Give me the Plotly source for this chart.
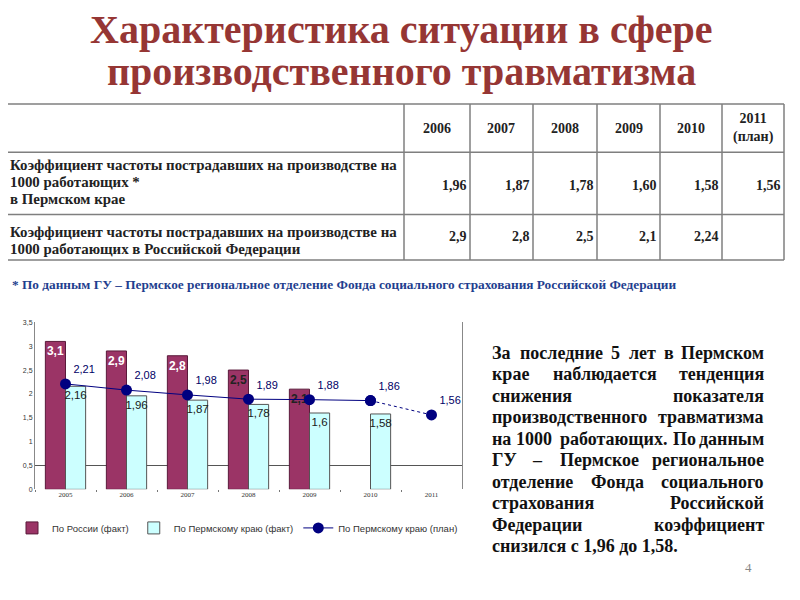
import plotly.graph_objects as go

# ---------------- data ----------------
title_lines = ["Характеристика ситуации в сфере", "производственного травматизма"]

table_years = ["2006", "2007", "2008", "2009", "2010", "2011<br>(план)"]
table_perm = ["1,96", "1,87", "1,78", "1,60", "1,58", "1,56"]
table_rf = ["2,9", "2,8", "2,5", "2,1", "2,24", ""]
table_labels = [
    ["Коэффициент частоты пострадавших на производстве на", "1000 работающих *", "в Пермском крае"],
    ["Коэффициент частоты пострадавших на производстве на", "1000 работающих в Российской Федерации"],
]
footnote = "* По данным ГУ – Пермское региональное отделение Фонда социального страхования Российской Федерации"

years = ["2005", "2006", "2007", "2008", "2009", "2010", "2011"]
russia_fact = [3.1, 2.9, 2.8, 2.5, 2.1, None, None]
perm_fact = [2.16, 1.96, 1.87, 1.78, 1.6, 1.58, None]
perm_plan = [2.21, 2.08, 1.98, 1.89, 1.88, 1.86, 1.56]
series_names = ["По России (факт)", "По Пермскому краю (факт)", "По Пермскому краю (план)"]

y_ticks = [0, 0.5, 1, 1.5, 2, 2.5, 3, 3.5]

side_lines = [
    "За последние 5 лет в Пермском",
    "крае наблюдается тенденция",
    "снижения показателя",
    "производственного травматизма",
    "на 1000 работающих. По данным",
    "ГУ – Пермское региональное",
    "отделение Фонда социального",
    "страхования Российской",
    "Федерации коэффициент",
    "снизился с 1,96 до 1,58.",
]
page_number = "4"

# ---------------- helpers ----------------
W, H = 800, 600
OFF = 8  # page body margin


def px(x):
    return (x - OFF) / W


def py(y):
    return 1 - (y - OFF) / H


def fmt(v):
    return "" if v is None else ("%g" % v).replace(".", ",")


SERIF = "Liberation Serif"
SANS = "Liberation Sans"

fig = go.Figure()

# ---------------- chart ----------------
fig.add_trace(go.Bar(
    x=years, y=russia_fact, name=series_names[0],
    marker=dict(color="#9B3466", line=dict(color="#5a1a3a", width=1)),
    text=["<b>%s</b>" % fmt(v) if v is not None else "" for v in russia_fact],
    textposition="inside", insidetextanchor="end", textangle=0,
    constraintext="none",
    textfont=dict(family=SANS, size=12, color=["white", "white", "white", "#222222", "#222222", "white", "white"]),
))
fig.add_trace(go.Bar(
    x=years, y=perm_fact, name=series_names[1],
    marker=dict(color="#CCFFFF", line=dict(color="#555555", width=1)),
    text=[fmt(v) for v in perm_fact], textposition="inside", insidetextanchor="end", textangle=0,
    constraintext="none",
    textfont=dict(family=SANS, size=11.5, color="#1a1a1a"),
))
fig.add_trace(go.Scatter(
    x=years[:6], y=perm_plan[:6], name=series_names[2], mode="lines+markers+text",
    line=dict(color="#000080", width=1),
    marker=dict(color="#000080", size=11),
    text=[fmt(v) for v in perm_plan[:6]], textposition="top right",
    textfont=dict(family=SANS, size=11, color="#000066"),
))
fig.add_trace(go.Scatter(
    x=years[5:], y=perm_plan[5:], name=series_names[2], mode="lines+markers+text",
    line=dict(color="#000080", width=1, dash="dot"),
    marker=dict(color="#000080", size=11),
    text=[""] + [fmt(v) for v in perm_plan[6:]], textposition="top right",
    textfont=dict(family=SANS, size=11, color="#000066"),
    showlegend=False,
))

fig.update_layout(
    width=W, height=H, margin=dict(l=0, r=0, t=0, b=0),
    paper_bgcolor="white", plot_bgcolor="white",
    separators=", ",
    barmode="group", bargap=0.34, bargroupgap=0,
    showlegend=True,
    legend=dict(orientation="h", x=px(12), y=py(530), xanchor="left", yanchor="middle",
                font=dict(family=SANS, size=9.5, color="#333333"), bgcolor="rgba(0,0,0,0)",
                itemwidth=30, tracegroupgap=0),
    xaxis=dict(domain=[px(35), px(462)], showline=False, showgrid=False, zeroline=False,
               ticks="outside", tickson="boundaries", ticklen=2, tickcolor="#777777",
               tickfont=dict(family=SERIF, size=7, color="#333333")),
    yaxis=dict(domain=[py(491), py(322)], range=[0, 3.5], tickvals=y_ticks,
               showline=True, linecolor="#888888", linewidth=1, mirror=True,
               showgrid=False, zeroline=False, ticks="",
               tickfont=dict(family=SANS, size=7, color="#333333")),
)

# single reference line at 0.5
fig.add_shape(type="line", xref="x domain", yref="y", x0=0, x1=1, y0=0.5, y1=0.5,
              line=dict(color="#555555", width=1), layer="below")

annotations = []

# ---------------- title ----------------
for i, t in enumerate(title_lines):
    annotations.append(dict(x=px(401), y=py(26 + 42 * i), xref="paper", yref="paper", text="<b>%s</b>" % t,
                            showarrow=False, xanchor="center", yanchor="middle",
                            font=dict(family=SERIF, size=40, color="#963634")))

# ---------------- table ----------------
col_x = [8, 404, 470, 533, 597, 660, 722, 784]
row_y = [101, 150, 213, 259]
shapes = []
for yy in row_y:
    shapes.append(dict(type="line", xref="paper", yref="paper", x0=px(col_x[0]), x1=px(col_x[-1]),
                       y0=py(yy), y1=py(yy), line=dict(color="#7f7f7f", width=1.5)))
for xx in col_x[1:]:
    shapes.append(dict(type="line", xref="paper", yref="paper", x0=px(xx), x1=px(xx),
                       y0=py(row_y[0]), y1=py(row_y[-1]), line=dict(color="#7f7f7f", width=1.5)))

tfont = dict(family=SERIF, size=14, color="#222222")
for j, yr in enumerate(table_years):
    cx = (col_x[j + 1] + col_x[j + 2]) / 2
    annotations.append(dict(x=px(cx), y=py((row_y[0] + row_y[1]) / 2), xref="paper", yref="paper",
                            text="<b>%s</b>" % yr, showarrow=False, xanchor="center", yanchor="middle",
                            font=tfont))
for r, vals in enumerate([table_perm, table_rf]):
    cy = (row_y[r + 1] + row_y[r + 2]) / 2 + (2 if r == 0 else -1)
    for j, v in enumerate(vals):
        if v:
            annotations.append(dict(x=px(col_x[j + 2] - 1), y=py(cy), xref="paper", yref="paper",
                                    text="<b>%s</b>" % v, showarrow=False, xanchor="right",
                                    yanchor="middle", font=tfont))
label_first_y = [163, 231]
for r, lines in enumerate(table_labels):
    for k, ln in enumerate(lines):
        annotations.append(dict(x=px(8), y=py(label_first_y[r] + 17 * k), xref="paper", yref="paper",
                                text="<b>%s</b>" % ln, showarrow=False, xanchor="left", yanchor="middle",
                                font=dict(family=SERIF, size=14.9, color="#222222")))

# footnote
annotations.append(dict(x=px(10), y=py(284), xref="paper", yref="paper", text="<b>%s</b>" % footnote,
                        showarrow=False, xanchor="left", yanchor="middle",
                        font=dict(family=SERIF, size=13.3, color="#1F3F8F")))

# ---------------- side text (justified) ----------------
wide = set("мшщжюыфМШЩЖЮЫФ")
narrow = set(" .,:;!'")


def est_width(word, size):
    w = 0
    for ch in word:
        if ch in wide:
            w += 0.74
        elif ch in narrow:
            w += 0.25
        elif ch.isupper():
            w += 0.68
        elif ch in "гесзэ":
            w += 0.44
        else:
            w += 0.53
    return w * size


SIDE_X0, SIDE_X1, SIDE_Y0, SIDE_DY, SIDE_FS = 490, 766, 353, 21.7, 18
sfont = dict(family=SERIF, size=SIDE_FS, color="#111111")
for i, line in enumerate(side_lines):
    yy = py(SIDE_Y0 + SIDE_DY * i)
    words = line.split(" ")
    if i == len(side_lines) - 1 or len(words) == 1:
        annotations.append(dict(x=px(SIDE_X0), y=yy, xref="paper", yref="paper", text="<b>%s</b>" % line,
                                showarrow=False, xanchor="left", yanchor="middle", font=sfont))
        continue
    widths = [est_width(w, SIDE_FS) for w in words]
    gap = (SIDE_X1 - SIDE_X0 - sum(widths)) / (len(words) - 1)
    xcur = SIDE_X0
    for k, (w, wd) in enumerate(zip(words, widths)):
        if k == 0:
            ax, anc = SIDE_X0, "left"
        elif k == len(words) - 1:
            ax, anc = SIDE_X1, "right"
        else:
            ax, anc = xcur + wd / 2, "center"
        annotations.append(dict(x=px(ax), y=yy, xref="paper", yref="paper", text="<b>%s</b>" % w,
                                showarrow=False, xanchor=anc, yanchor="middle", font=sfont))
        xcur += wd + gap

annotations.append(dict(x=px(748), y=py(570), xref="paper", yref="paper", text=page_number,
                        showarrow=False, xanchor="center", yanchor="middle",
                        font=dict(family=SERIF, size=13, color="#888888")))

fig.update_layout(annotations=annotations, shapes=list(fig.layout.shapes) + shapes)

fig.write_html("out.html")
